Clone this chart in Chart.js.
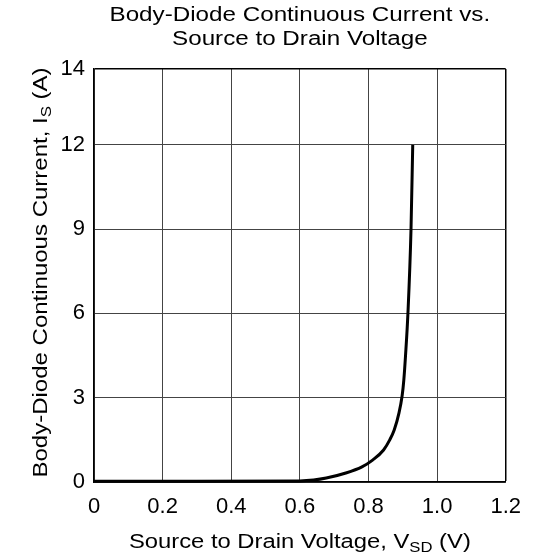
<!DOCTYPE html>
<html>
<head>
<meta charset="utf-8">
<script src="https://cdn.jsdelivr.net/npm/chart.js@4"></script>
<style>
  html, body { margin: 0; padding: 0; background: #fff; }
  canvas { display: block; }
</style>
</head>
<body>
<canvas id="c" width="533" height="556"></canvas>
<script>
// ---- data ----
const vsd = [0, 0.3, 0.6, 0.64, 0.677, 0.734, 0.781, 0.812, 0.844, 0.862, 0.875, 0.889, 0.898, 0.903, 0.908, 0.915, 0.924, 0.929];
const isCurrent = [0.03, 0.03, 0.04, 0.07, 0.14, 0.32, 0.54, 0.78, 1.14, 1.5, 1.85, 2.46, 3.06, 3.63, 4.5, 6, 9, 12];

const xTickValues = [0, 0.2, 0.4, 0.6, 0.8, 1.0, 1.2];
const xTickLabels = ['0', '0.2', '0.4', '0.6', '0.8', '1.0', '1.2'];
const yTickValues = [0, 3, 6, 9, 12, 14.7];
const yTickLabels = ['0', '3', '6', '9', '12', '14'];

const titleLines = ['Body-Diode Continuous Current vs.', 'Source to Drain Voltage'];
const xTitleParts = [{ t: 'Source to Drain Voltage, V' }, { t: 'SD', sub: true }, { t: ' (V)' }];
const yTitleParts = [{ t: 'Body-Diode Continuous Current, I' }, { t: 'S', sub: true }, { t: ' (A)' }];

const FONT = '"Liberation Sans", Arial, Helvetica, sans-serif';

function drawRich(ctx, parts, cx, by, sx, size) {
  const subSize = Math.round(size * 0.7);
  let W = 0;
  const ws = parts.map(p => {
    ctx.font = (p.sub ? subSize : size) + 'px ' + FONT;
    const w = ctx.measureText(p.t).width;
    W += w;
    return w;
  });
  ctx.save();
  ctx.translate(cx, by);
  ctx.scale(sx, 1);
  ctx.textBaseline = 'alphabetic';
  ctx.textAlign = 'left';
  ctx.fillStyle = '#000';
  let x = -W / 2;
  parts.forEach((p, i) => {
    ctx.font = (p.sub ? subSize : size) + 'px ' + FONT;
    ctx.fillText(p.t, x, p.sub ? 4 : 0);
    x += ws[i];
  });
  ctx.restore();
}

const textPlugin = {
  id: 'textPlugin',
  beforeDraw(chart) {
    const ctx = chart.ctx;
    ctx.save();
    ctx.fillStyle = '#fff';
    ctx.fillRect(0, 0, chart.width, chart.height);
    ctx.restore();
  },
  afterDraw(chart) {
    const ctx = chart.ctx;
    const a = chart.chartArea;
    const cx = (a.left + a.right) / 2;
    const cy = (a.top + a.bottom) / 2;
    drawRich(ctx, [{ t: titleLines[0] }], cx, 21, 1.21, 20);
    drawRich(ctx, [{ t: titleLines[1] }], cx, 45, 1.21, 20);
    drawRich(ctx, xTitleParts, cx, 548, 1.19, 20);
    ctx.save();
    ctx.translate(47, cy - 3);
    ctx.rotate(-Math.PI / 2);
    drawRich(ctx, yTitleParts, 0, 0, 1.2, 20);
    ctx.restore();
  }
};

new Chart(document.getElementById('c'), {
  type: 'line',
  data: {
    datasets: [{
      data: vsd.map((v, i) => ({ x: v, y: isCurrent[i] })),
      borderColor: '#000',
      borderWidth: 3,
      pointRadius: 0,
      fill: false,
      cubicInterpolationMode: 'monotone',
      clip: false
    }]
  },
  options: {
    responsive: false,
    animation: false,
    devicePixelRatio: 1,
    layout: { padding: { top: 69, right: 23, left: 0, bottom: 0 } },
    plugins: {
      legend: { display: false },
      title: { display: false },
      tooltip: { enabled: false }
    },
    scales: {
      x: {
        type: 'linear',
        position: 'bottom',
        min: 0,
        max: 1.2,
        afterBuildTicks: s => { s.ticks = xTickValues.map(v => ({ value: v })); },
        afterFit: s => { s.height = 74; },
        ticks: {
          callback: (v, i) => xTickLabels[i],
          color: '#000',
          font: { family: FONT, size: 22 },
          padding: 12,
          maxRotation: 0,
          autoSkip: false
        },
        grid: {
          drawTicks: false,
          color: ctx => (ctx.tick && ctx.tick.value === 1.2) ? '#000' : '#444',
          lineWidth: ctx => (ctx.tick && ctx.tick.value === 1.2) ? 1.5 : 1
        },
        border: { display: true, color: '#000', width: 1.5 }
      },
      y: {
        type: 'linear',
        position: 'left',
        min: 0,
        max: 14.7,
        afterBuildTicks: s => { s.ticks = yTickValues.map(v => ({ value: v })); },
        afterFit: s => { s.width = 94; },
        ticks: {
          callback: (v, i) => yTickLabels[i],
          color: '#000',
          font: { family: FONT, size: 22 },
          padding: 9,
          autoSkip: false
        },
        grid: {
          drawTicks: false,
          color: ctx => (ctx.tick && ctx.tick.value === 14.7) ? '#000' : '#444',
          lineWidth: ctx => (ctx.tick && ctx.tick.value === 14.7) ? 1.5 : 1
        },
        border: { display: true, color: '#000', width: 1.5 }
      }
    }
  },
  plugins: [textPlugin]
});
</script>
</body>
</html>
